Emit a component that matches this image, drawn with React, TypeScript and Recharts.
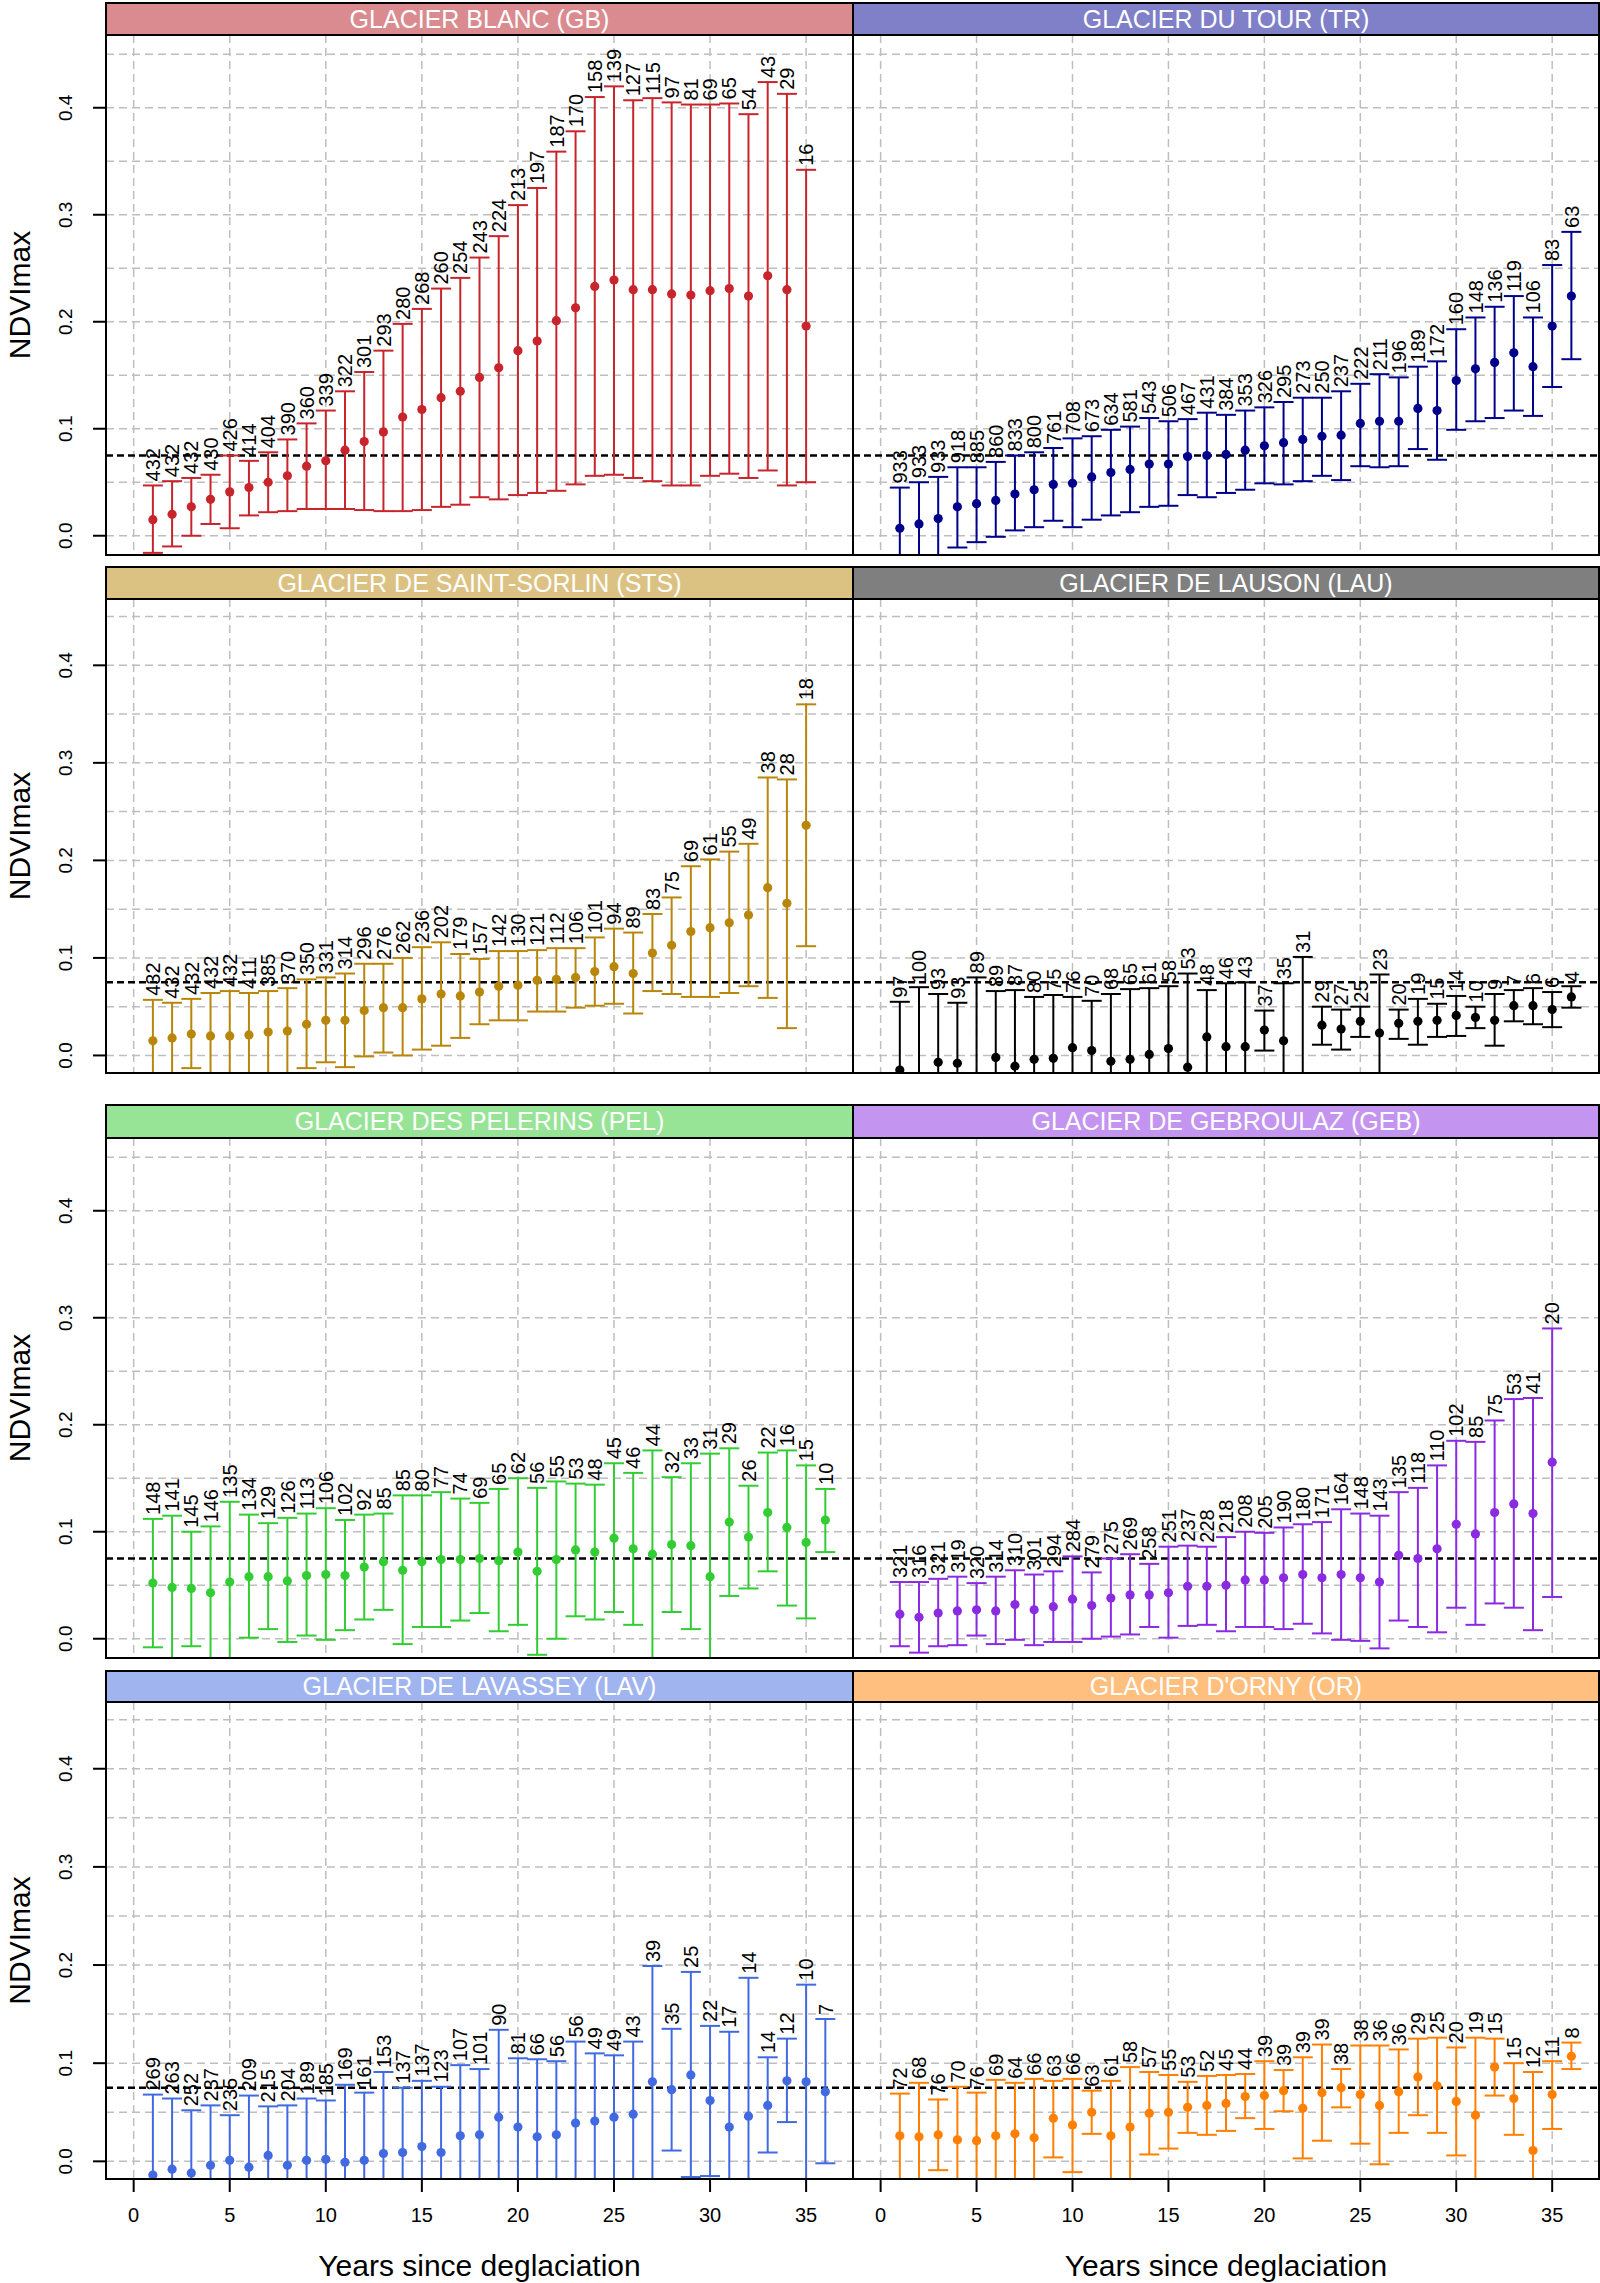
import React from 'react';
import { ScatterChart, Scatter, XAxis, YAxis, CartesianGrid, ErrorBar, ReferenceLine } from 'recharts';

const FONT = '"Liberation Sans", Arial, Helvetica, sans-serif';

const years = [1, 2, 3, 4, 5, 6, 7, 8, 9, 10, 11, 12, 13, 14, 15, 16, 17, 18, 19, 20, 21, 22, 23, 24, 25, 26, 27, 28, 29, 30, 31, 32, 33, 34, 35, 36];
const xTicks = [0, 5, 10, 15, 20, 25, 30, 35];
const yTicks = [0, 0.1, 0.2, 0.3, 0.4];
const yGrid = [0, 0.05, 0.1, 0.15, 0.2, 0.25, 0.3, 0.35, 0.4, 0.45];
const xDomain = [-1.44, 37.44];
const yDomain = [-0.018, 0.468];
const threshold = 0.075;

// GLACIER BLANC (GB)
const gbMean = [0.015, 0.020, 0.027, 0.034, 0.041, 0.045, 0.050, 0.056, 0.065, 0.070, 0.080, 0.088, 0.097, 0.111, 0.118, 0.129, 0.135, 0.148, 0.157, 0.173, 0.182, 0.201, 0.213, 0.233, 0.239, 0.230, 0.230, 0.226, 0.225, 0.229, 0.231, 0.224, 0.243, 0.230, 0.196];
const gbLo = [-0.016, -0.010, 0.000, 0.011, 0.007, 0.019, 0.022, 0.023, 0.025, 0.025, 0.025, 0.024, 0.023, 0.023, 0.024, 0.027, 0.029, 0.036, 0.034, 0.038, 0.040, 0.042, 0.048, 0.056, 0.057, 0.054, 0.051, 0.047, 0.047, 0.056, 0.058, 0.054, 0.061, 0.047, 0.050];
const gbHi = [0.047, 0.051, 0.054, 0.057, 0.075, 0.070, 0.078, 0.090, 0.105, 0.117, 0.135, 0.153, 0.173, 0.198, 0.212, 0.231, 0.241, 0.260, 0.280, 0.309, 0.325, 0.359, 0.378, 0.410, 0.420, 0.407, 0.409, 0.405, 0.403, 0.403, 0.404, 0.394, 0.424, 0.413, 0.342];
const gbN = [432, 432, 432, 430, 426, 414, 404, 390, 360, 339, 322, 301, 293, 280, 268, 260, 254, 243, 224, 213, 197, 187, 170, 158, 139, 127, 115, 97, 81, 69, 65, 54, 43, 29, 16];

// GLACIER DU TOUR (TR)
const trMean = [0.007, 0.011, 0.016, 0.027, 0.030, 0.033, 0.039, 0.043, 0.048, 0.049, 0.055, 0.059, 0.062, 0.067, 0.067, 0.074, 0.075, 0.076, 0.080, 0.084, 0.087, 0.090, 0.093, 0.094, 0.105, 0.107, 0.107, 0.119, 0.117, 0.145, 0.156, 0.162, 0.171, 0.158, 0.196, 0.224];
const trLo = [-0.031, -0.028, -0.023, -0.011, -0.006, -0.001, 0.005, 0.008, 0.014, 0.008, 0.015, 0.019, 0.022, 0.027, 0.028, 0.038, 0.036, 0.040, 0.043, 0.049, 0.048, 0.051, 0.056, 0.052, 0.065, 0.064, 0.065, 0.081, 0.071, 0.099, 0.107, 0.110, 0.117, 0.112, 0.139, 0.165];
const trHi = [0.045, 0.050, 0.055, 0.064, 0.064, 0.069, 0.075, 0.078, 0.082, 0.091, 0.093, 0.099, 0.102, 0.110, 0.107, 0.109, 0.115, 0.113, 0.117, 0.120, 0.125, 0.129, 0.129, 0.135, 0.142, 0.151, 0.148, 0.158, 0.163, 0.193, 0.204, 0.214, 0.224, 0.204, 0.253, 0.284];
const trN = [933, 933, 933, 918, 885, 860, 833, 800, 761, 708, 673, 634, 581, 543, 506, 467, 431, 384, 353, 326, 295, 273, 250, 237, 222, 211, 196, 189, 172, 160, 148, 136, 119, 106, 83, 63];

// GLACIER DE SAINT-SORLIN (STS)
const stsMean = [0.015, 0.018, 0.022, 0.020, 0.020, 0.021, 0.024, 0.025, 0.032, 0.036, 0.036, 0.046, 0.049, 0.049, 0.058, 0.063, 0.061, 0.065, 0.071, 0.072, 0.077, 0.078, 0.080, 0.086, 0.091, 0.084, 0.105, 0.113, 0.127, 0.131, 0.136, 0.144, 0.172, 0.156, 0.236];
const stsLo = [-0.027, -0.020, -0.013, -0.024, -0.026, -0.022, -0.020, -0.021, -0.013, -0.007, -0.012, -0.001, 0.003, 0.000, 0.006, 0.010, 0.018, 0.032, 0.036, 0.036, 0.045, 0.045, 0.049, 0.051, 0.053, 0.043, 0.066, 0.063, 0.060, 0.060, 0.064, 0.071, 0.059, 0.028, 0.112];
const stsHi = [0.057, 0.054, 0.058, 0.064, 0.066, 0.064, 0.066, 0.069, 0.078, 0.080, 0.084, 0.094, 0.094, 0.100, 0.111, 0.116, 0.104, 0.099, 0.107, 0.107, 0.108, 0.110, 0.110, 0.121, 0.130, 0.126, 0.145, 0.162, 0.194, 0.201, 0.209, 0.217, 0.285, 0.283, 0.360];
const stsN = [432, 432, 432, 432, 432, 411, 385, 370, 350, 331, 314, 296, 276, 262, 236, 202, 179, 157, 142, 130, 121, 112, 106, 101, 94, 89, 83, 75, 69, 61, 55, 49, 38, 28, 18];

// GLACIER DE LAUSON (LAU)
const lauMean = [-0.015, -0.030, -0.007, -0.008, -0.030, -0.002, -0.011, -0.004, -0.003, 0.008, 0.005, -0.006, -0.004, 0.001, 0.007, -0.012, 0.019, 0.009, 0.009, 0.026, 0.015, -0.030, 0.031, 0.027, 0.035, 0.023, 0.033, 0.035, 0.036, 0.041, 0.039, 0.036, 0.051, 0.051, 0.047, 0.060];
const lauLo = [-0.085, -0.130, -0.077, -0.070, -0.140, -0.070, -0.089, -0.068, -0.068, -0.044, -0.046, -0.075, -0.076, -0.067, -0.057, -0.108, -0.029, -0.056, -0.057, 0.005, -0.044, -0.160, 0.011, 0.006, 0.019, -0.037, 0.017, 0.011, 0.019, 0.020, 0.028, 0.010, 0.035, 0.032, 0.029, 0.049];
const lauHi = [0.055, 0.070, 0.063, 0.054, 0.080, 0.066, 0.067, 0.060, 0.062, 0.060, 0.056, 0.063, 0.068, 0.069, 0.071, 0.084, 0.067, 0.074, 0.075, 0.046, 0.074, 0.101, 0.050, 0.047, 0.050, 0.083, 0.047, 0.058, 0.053, 0.061, 0.050, 0.063, 0.067, 0.069, 0.065, 0.071];
const lauN = [97, 100, 93, 93, 89, 89, 87, 80, 75, 76, 70, 68, 65, 61, 58, 53, 48, 46, 43, 37, 35, 31, 29, 27, 25, 23, 20, 19, 15, 14, 10, 9, 7, 6, 6, 4];

// GLACIER DES PELERINS (PEL)
const pelMean = [0.052, 0.048, 0.047, 0.043, 0.053, 0.058, 0.058, 0.054, 0.059, 0.060, 0.059, 0.067, 0.072, 0.064, 0.072, 0.074, 0.074, 0.075, 0.073, 0.081, 0.063, 0.074, 0.083, 0.081, 0.094, 0.084, 0.079, 0.088, 0.087, 0.058, 0.109, 0.095, 0.118, 0.104, 0.090, 0.111];
const pelLo = [-0.008, -0.020, -0.007, -0.021, -0.022, 0.001, 0.009, -0.003, 0.003, -0.001, 0.008, 0.018, 0.027, -0.005, 0.011, 0.011, 0.017, 0.024, 0.007, 0.013, -0.015, 0.000, 0.021, 0.018, 0.025, 0.013, -0.020, 0.025, 0.009, -0.057, 0.040, 0.047, 0.063, 0.031, 0.019, 0.081];
const pelHi = [0.112, 0.115, 0.100, 0.105, 0.128, 0.116, 0.108, 0.113, 0.117, 0.122, 0.111, 0.116, 0.117, 0.134, 0.134, 0.137, 0.131, 0.127, 0.140, 0.150, 0.141, 0.147, 0.145, 0.144, 0.164, 0.155, 0.176, 0.151, 0.164, 0.173, 0.178, 0.143, 0.174, 0.176, 0.162, 0.140];
const pelN = [148, 141, 145, 146, 135, 134, 129, 126, 113, 106, 102, 92, 85, 85, 80, 77, 74, 69, 65, 62, 56, 55, 53, 48, 45, 46, 44, 32, 33, 31, 29, 26, 22, 16, 15, 10];

// GLACIER DE GEBROULAZ (GEB)
const gebMean = [0.023, 0.020, 0.024, 0.026, 0.027, 0.026, 0.032, 0.027, 0.030, 0.037, 0.031, 0.038, 0.041, 0.041, 0.043, 0.049, 0.049, 0.050, 0.055, 0.055, 0.057, 0.060, 0.057, 0.060, 0.057, 0.053, 0.078, 0.075, 0.084, 0.107, 0.098, 0.118, 0.126, 0.117, 0.165];
const gebLo = [-0.007, -0.013, -0.007, -0.006, 0.003, -0.005, -0.001, -0.006, -0.003, -0.003, 0.000, 0.002, 0.004, 0.011, 0.001, 0.012, 0.013, 0.007, 0.011, 0.011, 0.009, 0.014, 0.005, -0.001, -0.002, -0.009, 0.017, 0.011, 0.006, 0.029, 0.013, 0.033, 0.029, 0.008, 0.039];
const gebHi = [0.053, 0.053, 0.056, 0.058, 0.052, 0.058, 0.064, 0.060, 0.063, 0.077, 0.062, 0.075, 0.079, 0.070, 0.086, 0.087, 0.086, 0.095, 0.100, 0.099, 0.104, 0.107, 0.109, 0.121, 0.117, 0.115, 0.137, 0.141, 0.162, 0.185, 0.184, 0.204, 0.224, 0.225, 0.290];
const gebN = [321, 316, 321, 319, 320, 314, 310, 301, 294, 284, 279, 275, 269, 258, 251, 237, 228, 218, 208, 205, 190, 180, 171, 164, 148, 143, 135, 118, 110, 102, 85, 75, 53, 41, 20];

// GLACIER DE LAVASSEY (LAV)
const lavMean = [-0.014, -0.008, -0.012, -0.004, 0.001, -0.006, 0.006, -0.004, 0.001, 0.002, -0.001, 0.001, 0.008, 0.009, 0.015, 0.009, 0.026, 0.027, 0.045, 0.035, 0.025, 0.027, 0.039, 0.041, 0.045, 0.048, 0.081, 0.073, 0.088, 0.062, 0.035, 0.046, 0.057, 0.082, 0.081, 0.071];
const lavLo = [-0.096, -0.080, -0.076, -0.065, -0.045, -0.079, -0.044, -0.065, -0.062, -0.058, -0.080, -0.068, -0.075, -0.057, -0.052, -0.058, -0.046, -0.040, -0.044, -0.035, -0.054, -0.048, -0.044, -0.028, -0.020, -0.026, -0.037, 0.011, -0.016, -0.015, -0.062, -0.095, 0.009, 0.040, -0.020, -0.002];
const lavHi = [0.068, 0.064, 0.052, 0.057, 0.047, 0.067, 0.056, 0.057, 0.064, 0.062, 0.078, 0.070, 0.091, 0.075, 0.082, 0.076, 0.098, 0.094, 0.134, 0.105, 0.104, 0.102, 0.122, 0.110, 0.108, 0.122, 0.199, 0.135, 0.193, 0.138, 0.132, 0.187, 0.106, 0.125, 0.180, 0.145];
const lavN = [269, 263, 252, 237, 235, 209, 215, 204, 189, 185, 169, 161, 153, 137, 137, 123, 107, 101, 90, 81, 66, 56, 56, 49, 49, 43, 39, 35, 25, 22, 17, 14, 14, 12, 10, 7];

// GLACIER D'ORNY (OR)
const orMean = [0.026, 0.025, 0.027, 0.022, 0.021, 0.026, 0.028, 0.024, 0.044, 0.037, 0.050, 0.026, 0.035, 0.049, 0.050, 0.055, 0.057, 0.059, 0.066, 0.067, 0.072, 0.054, 0.070, 0.075, 0.068, 0.057, 0.071, 0.086, 0.077, 0.061, 0.047, 0.096, 0.064, 0.011, 0.068, 0.107];
const orLo = [-0.020, -0.030, -0.009, -0.032, -0.028, -0.031, -0.024, -0.036, 0.004, -0.011, 0.028, -0.030, -0.026, 0.007, 0.013, 0.029, 0.027, 0.031, 0.044, 0.033, 0.051, 0.003, 0.021, 0.055, 0.018, -0.003, 0.029, 0.047, 0.029, 0.006, -0.032, 0.067, 0.027, -0.069, 0.033, 0.094];
const orHi = [0.069, 0.080, 0.063, 0.076, 0.070, 0.083, 0.080, 0.084, 0.082, 0.084, 0.072, 0.082, 0.096, 0.091, 0.088, 0.081, 0.087, 0.088, 0.089, 0.102, 0.093, 0.106, 0.119, 0.094, 0.118, 0.118, 0.114, 0.125, 0.126, 0.116, 0.126, 0.125, 0.100, 0.091, 0.102, 0.121];
const orN = [72, 68, 76, 70, 76, 69, 64, 66, 63, 66, 63, 61, 58, 57, 55, 53, 52, 45, 44, 39, 39, 39, 39, 38, 38, 36, 36, 29, 25, 20, 19, 15, 15, 12, 11, 8];

const panels = [
  { title: 'GLACIER BLANC (GB)', color: '#C8242C', strip: '#D98B8F', mean: gbMean, lo: gbLo, hi: gbHi, n: gbN },
  { title: 'GLACIER DU TOUR (TR)', color: '#00008B', strip: '#8080C8', mean: trMean, lo: trLo, hi: trHi, n: trN },
  { title: 'GLACIER DE SAINT-SORLIN (STS)', color: '#B8860B', strip: '#DBC283', mean: stsMean, lo: stsLo, hi: stsHi, n: stsN },
  { title: 'GLACIER DE LAUSON (LAU)', color: '#000000', strip: '#7F7F7F', mean: lauMean, lo: lauLo, hi: lauHi, n: lauN },
  { title: 'GLACIER DES PELERINS (PEL)', color: '#32CD32', strip: '#97E497', mean: pelMean, lo: pelLo, hi: pelHi, n: pelN },
  { title: 'GLACIER DE GEBROULAZ (GEB)', color: '#8A2BE2', strip: '#C495F0', mean: gebMean, lo: gebLo, hi: gebHi, n: gebN },
  { title: 'GLACIER DE LAVASSEY (LAV)', color: '#4169E1', strip: '#A0B4F0', mean: lavMean, lo: lavLo, hi: lavHi, n: lavN },
  { title: "GLACIER D'ORNY (OR)", color: '#FF7F00', strip: '#FFBF7F', mean: orMean, lo: orLo, hi: orHi, n: orN },
];

const ROWS = [
  { stripTop: 2, plotTop: 35, plotH: 520 },
  { stripTop: 566, plotTop: 599, plotH: 474 },
  { stripTop: 1104, plotTop: 1138, plotH: 520 },
  { stripTop: 1670, plotTop: 1702, plotH: 477 },
];
const COLS = [
  { plotLeft: 106, plotW: 747 },
  { plotLeft: 853, plotW: 746 },
];
const PAGE_H = 2283;

function Panel({ p, row, col }: any) {
  const r = ROWS[row];
  const c = COLS[col];
  const isLeft = col === 0;
  const isBottom = row === ROWS.length - 1;
  const axisW = isLeft ? c.plotLeft : 0;
  const chartLeft = isLeft ? 0 : c.plotLeft;
  const chartW = axisW + c.plotW;
  const xAxisH = isBottom ? PAGE_H - (r.plotTop + r.plotH) : 0;
  const chartH = r.plotH + xAxisH;

  const pts = p.mean.map((m: number, i: number) => ({ x: years[i], y: m, err: [m - p.lo[i], p.hi[i] - m] }));
  const labs = p.hi.map((h: number, i: number) => ({ x: years[i], y: h, n: p.n[i] }));

  const dot = (s: any) => <circle cx={s.cx} cy={s.cy} r={4.6} fill={p.color} />;
  const lab = (s: any) => {
    const x = s.cx + 7.2;
    const y = s.cy - 4;
    return (
      <text x={x} y={y} transform={`rotate(-90 ${x} ${y})`} textAnchor="start" fontSize={20} fontFamily={FONT} fill="#000">
        {s.payload.n}
      </text>
    );
  };
  const yTick = (t: any) => (
    <text x={t.x} y={t.y} transform={`rotate(-90 ${t.x} ${t.y})`} textAnchor="middle" fontSize={19} fontFamily={FONT} fill="#000">
      {Number(t.payload.value).toFixed(1)}
    </text>
  );

  return (
    <>
      {/* background: grid, axes, threshold line */}
      <div style={{ position: 'absolute', left: chartLeft, top: r.plotTop, width: chartW, height: chartH }}>
        <ScatterChart width={chartW} height={chartH} margin={{ top: 0, right: 0, bottom: 0, left: 0 }}>
          <CartesianGrid stroke="#BEBEBE" strokeWidth={1.5} strokeDasharray="8 5" horizontalValues={yGrid} verticalValues={xTicks} />
          <XAxis
            type="number"
            dataKey="x"
            domain={xDomain}
            allowDataOverflow
            ticks={xTicks}
            hide={!isBottom}
            height={xAxisH || 30}
            axisLine={false}
            tickSize={13}
            tickMargin={16}
            tickLine={{ stroke: '#000', strokeWidth: 2 }}
            tick={{ fontSize: 20, fill: '#000', fontFamily: FONT }}
            interval={0}
          />
          <YAxis
            type="number"
            dataKey="y"
            domain={yDomain}
            allowDataOverflow
            ticks={yTicks}
            hide={!isLeft}
            width={axisW || 60}
            axisLine={false}
            tickSize={13}
            tickMargin={21}
            tickLine={{ stroke: '#000', strokeWidth: 2 }}
            tick={yTick}
            interval={0}
          />
          <ReferenceLine y={threshold} stroke="#000" strokeWidth={2.5} strokeDasharray="7 4" />
        </ScatterChart>
      </div>
      {/* foreground: series, clipped to the plot rectangle by the svg bounds */}
      <div style={{ position: 'absolute', left: c.plotLeft, top: r.plotTop, width: c.plotW, height: r.plotH }}>
        <ScatterChart width={c.plotW} height={r.plotH} margin={{ top: 0, right: 0, bottom: 0, left: 0 }}>
          <XAxis type="number" dataKey="x" domain={xDomain} allowDataOverflow hide />
          <YAxis type="number" dataKey="y" domain={yDomain} allowDataOverflow hide />
          <Scatter data={pts} isAnimationActive={false} shape={dot}>
            <ErrorBar dataKey="err" direction="y" width={10} stroke={p.color} strokeWidth={2} isAnimationActive={false} />
          </Scatter>
          <Scatter data={labs} isAnimationActive={false} shape={lab} />
        </ScatterChart>
      </div>
      <div
        style={{
          position: 'absolute',
          left: c.plotLeft - 1,
          top: r.stripTop,
          width: c.plotW + 2,
          height: r.plotTop - r.stripTop + 1,
          boxSizing: 'border-box',
          border: '2px solid #000',
          background: p.strip,
          color: '#fff',
          fontFamily: FONT,
          fontSize: 25,
          display: 'flex',
          alignItems: 'center',
          justifyContent: 'center',
          lineHeight: 1,
        }}
      >
        {p.title}
      </div>
      <div
        style={{
          position: 'absolute',
          left: c.plotLeft - 1,
          top: r.plotTop - 1,
          width: c.plotW + 2,
          height: r.plotH + 2,
          boxSizing: 'border-box',
          border: '2px solid #000',
          pointerEvents: 'none',
        }}
      />
    </>
  );
}

export default function App() {
  return (
    <div style={{ position: 'absolute', left: 0, top: 0, width: 1600, height: PAGE_H, background: '#fff', overflow: 'hidden', fontFamily: FONT }}>
      {panels.map((p, i) => (
        <Panel key={p.title} p={p} row={Math.floor(i / 2)} col={i % 2} />
      ))}
      <svg width={1600} height={PAGE_H} style={{ position: 'absolute', left: 0, top: 0, pointerEvents: 'none' }}>
        {ROWS.map((r, i) => {
          const cy = r.plotTop + r.plotH / 2;
          return (
            <text key={i} x={30} y={cy} transform={`rotate(-90 30 ${cy})`} textAnchor="middle" fontSize={30} fontFamily={FONT} fill="#000">
              NDVImax
            </text>
          );
        })}
        {COLS.map((c, i) => (
          <text key={i} x={c.plotLeft + c.plotW / 2} y={2276} textAnchor="middle" fontSize={30} fontFamily={FONT} fill="#000">
            Years since deglaciation
          </text>
        ))}
      </svg>
    </div>
  );
}
